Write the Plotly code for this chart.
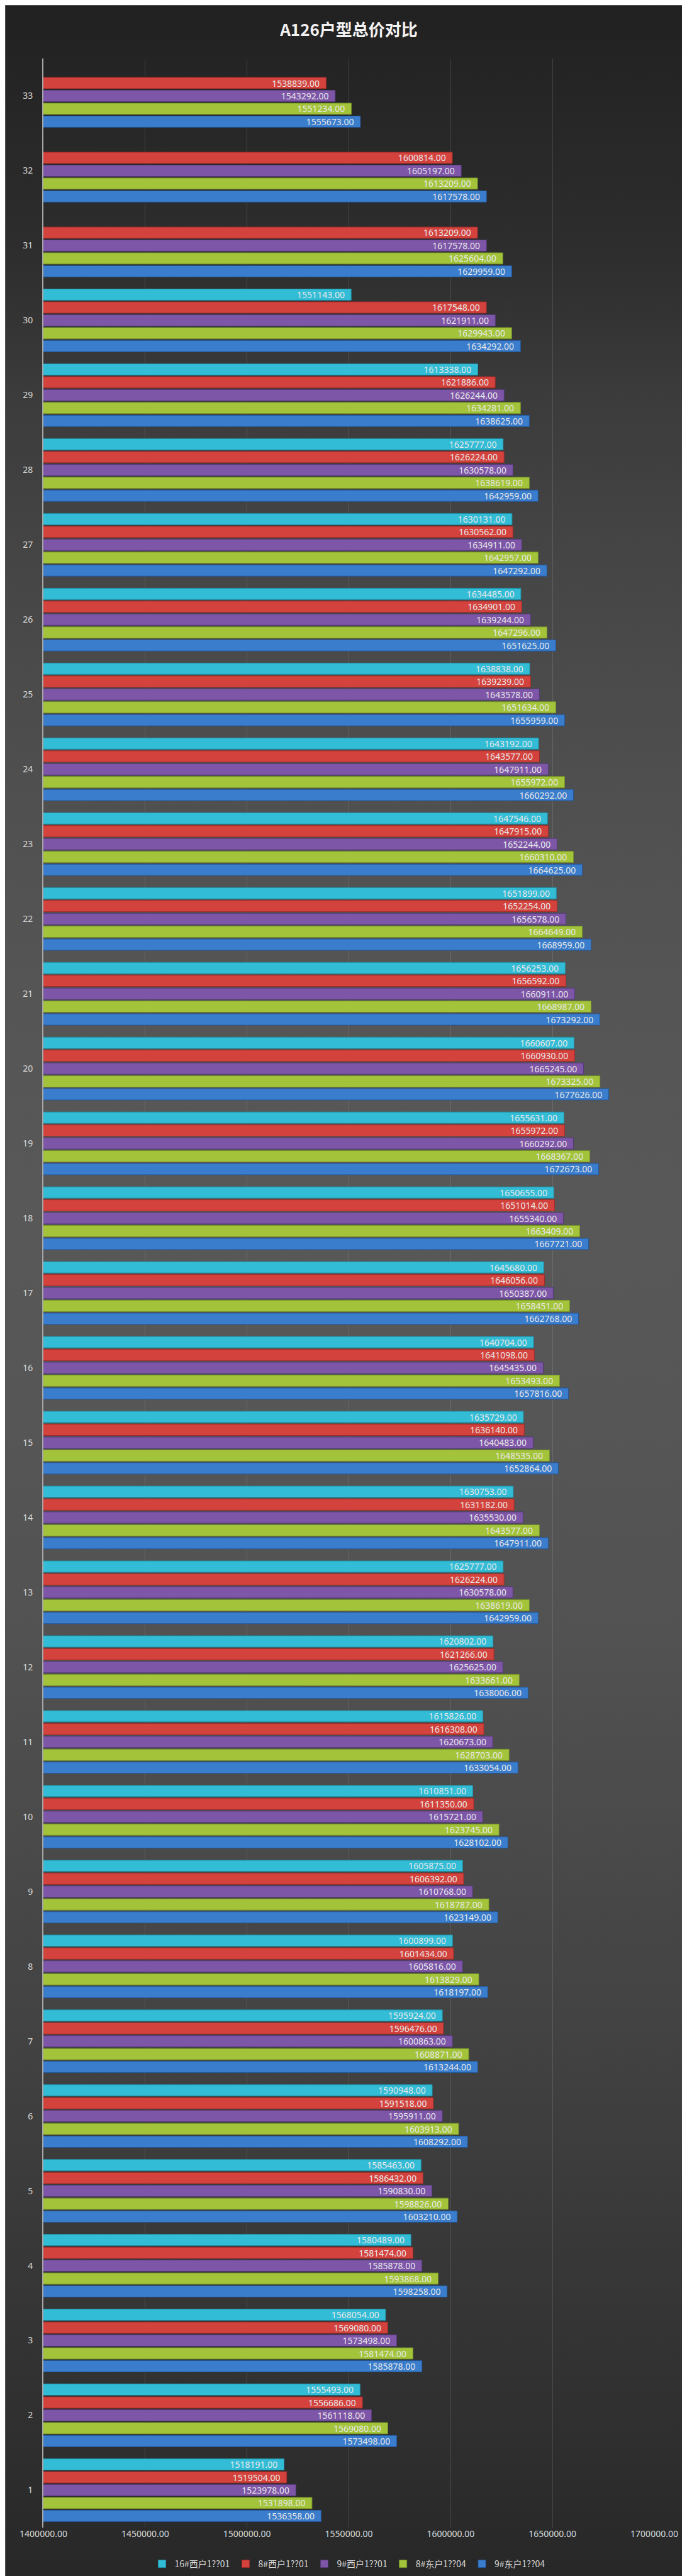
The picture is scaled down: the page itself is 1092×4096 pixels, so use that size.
import base64
import plotly.graph_objects as go

categories = [str(i) for i in range(1, 34)]

series_names = ["16#西户1??01", "8#西户1??01", "9#西户1??01", "8#东户1??04", "9#东户1??04"]

# values listed for categories 1..33
cyan_16w = [1518191, 1555493, 1568054, 1580489, 1585463, 1590948, 1595924, 1600899, 1605875, 1610851,
            1615826, 1620802, 1625777, 1630753, 1635729, 1640704, 1645680, 1650655, 1655631, 1660607,
            1656253, 1651899, 1647546, 1643192, 1638838, 1634485, 1630131, 1625777, 1613338, 1551143,
            None, None, None]
red_8w = [1519504, 1556686, 1569080, 1581474, 1586432, 1591518, 1596476, 1601434, 1606392, 1611350,
          1616308, 1621266, 1626224, 1631182, 1636140, 1641098, 1646056, 1651014, 1655972, 1660930,
          1656592, 1652254, 1647915, 1643577, 1639239, 1634901, 1630562, 1626224, 1621886, 1617548,
          1613209, 1600814, 1538839]
purple_9w = [1523978, 1561118, 1573498, 1585878, 1590830, 1595911, 1600863, 1605816, 1610768, 1615721,
             1620673, 1625625, 1630578, 1635530, 1640483, 1645435, 1650387, 1655340, 1660292, 1665245,
             1660911, 1656578, 1652244, 1647911, 1643578, 1639244, 1634911, 1630578, 1626244, 1621911,
             1617578, 1605197, 1543292]
green_8e = [1531898, 1569080, 1581474, 1593868, 1598826, 1603913, 1608871, 1613829, 1618787, 1623745,
            1628703, 1633661, 1638619, 1643577, 1648535, 1653493, 1658451, 1663409, 1668367, 1673325,
            1668987, 1664649, 1660310, 1655972, 1651634, 1647296, 1642957, 1638619, 1634281, 1629943,
            1625604, 1613209, 1551234]
blue_9e = [1536358, 1573498, 1585878, 1598258, 1603210, 1608292, 1613244, 1618197, 1623149, 1628102,
           1633054, 1638006, 1642959, 1647911, 1652864, 1657816, 1662768, 1667721, 1672673, 1677626,
           1673292, 1668959, 1664625, 1660292, 1655959, 1651625, 1647292, 1642959, 1638625, 1634292,
           1629959, 1617578, 1555673]

x_ticks = [1400000, 1450000, 1500000, 1550000, 1600000, 1650000, 1700000]

colors = ["#33bcd6", "#d4423d", "#7e56a8", "#a3c43a", "#3a7dcc"]
line_colors = ["#1f8ea3", "#9e2b28", "#553a78", "#74902a", "#24579a"]

W, H = 1092, 4096
L, R, T, B = 61, 60, 85, 84
pw = W - L - R
ph = H - T - B

# background gradient (vertical) as an SVG image
stops = [(0.00, 0x21), (0.10, 0x2e), (0.15, 0x3b), (0.22, 0x46), (0.30, 0x4f), (0.38, 0x55),
         (0.47, 0x58), (0.55, 0x56), (0.63, 0x52), (0.71, 0x4a), (0.79, 0x42), (0.87, 0x38),
         (0.95, 0x2e), (1.00, 0x27)]
stop_xml = "".join(
    f'<stop offset="{o}" stop-color="#{g:02x}{g:02x}{g:02x}"/>' for o, g in stops)
svg = (f'<svg xmlns="http://www.w3.org/2000/svg" width="{W}" height="{H}" viewBox="0 0 {W} {H}" '
       f'preserveAspectRatio="none"><defs><linearGradient id="g" x1="0" y1="0" x2="0" y2="1">'
       f'{stop_xml}</linearGradient></defs><rect width="{W}" height="{H}" fill="url(#g)"/>'
       f'<rect x="0.5" y="0.5" width="{W-1}" height="{H-1}" fill="none" stroke="#555" stroke-width="1"/></svg>')
svg_uri = "data:image/svg+xml;base64," + base64.b64encode(svg.encode()).decode()

fig = go.Figure()
series = [cyan_16w, red_8w, purple_9w, green_8e, blue_9e]
# add in reverse so the first series sits at the top of each group
for i in reversed(range(5)):
    fig.add_trace(go.Bar(
        y=categories, x=series[i], name=series_names[i], orientation="h",
        marker=dict(color=colors[i], line=dict(color=line_colors[i], width=1)),
        texttemplate="%{x:.2f}\u00a0\u00a0", textposition="inside", insidetextanchor="end",
        textfont=dict(family="Noto Sans, DejaVu Sans, sans-serif", size=14, color="#e8e8e8"),
        cliponaxis=False,
    ))

fig.update_layout(
    width=W, height=H,
    margin=dict(l=L, r=R, t=T, b=B),
    paper_bgcolor="#333333", plot_bgcolor="rgba(0,0,0,0)",
    barmode="group", bargap=0.14, bargroupgap=0.125,
    uniformtext=dict(minsize=14, mode="show"),
    title=dict(text="<b>A126户型总价对比</b>", x=0.5, xanchor="center", xref="paper",
               y=1 - 40 / H, yref="container", yanchor="middle",
               font=dict(family="Noto Sans CJK SC, Noto Sans, sans-serif", size=26, color="#f2f2f2")),
    font=dict(family="Noto Sans, Noto Sans CJK SC, sans-serif", color="#d9d9d9"),
    showlegend=True,
    legend=dict(orientation="h", traceorder="reversed", x=0.5, xanchor="center",
                y=-57 / ph, yanchor="middle",
                font=dict(family="Noto Sans CJK SC, Noto Sans, sans-serif", size=14, color="#d9d9d9"),
                bgcolor="rgba(0,0,0,0)"),
    images=[dict(source=svg_uri, xref="paper", yref="paper",
                 x=-L / pw, y=1 + T / ph, sizex=W / pw, sizey=H / ph,
                 xanchor="left", yanchor="top", sizing="stretch", layer="below")],
)

fig.update_xaxes(range=[1400000, 1700000], tickvals=x_ticks, tickformat=".2f",
                 showgrid=True, gridcolor="rgba(255,255,255,0.13)", gridwidth=1,
                 zeroline=False, showline=False, ticks="",
                 tickfont=dict(family="Noto Sans, sans-serif", size=14, color="#d9d9d9"))
fig.update_yaxes(type="category", categoryorder="array", categoryarray=categories,
                 showgrid=False, showline=True, linecolor="#a6a6a6", linewidth=2, ticks="",
                 ticklabelstandoff=12,
                 tickfont=dict(family="Noto Sans, sans-serif", size=14, color="#d9d9d9"))

fig.write_html("out.html")
